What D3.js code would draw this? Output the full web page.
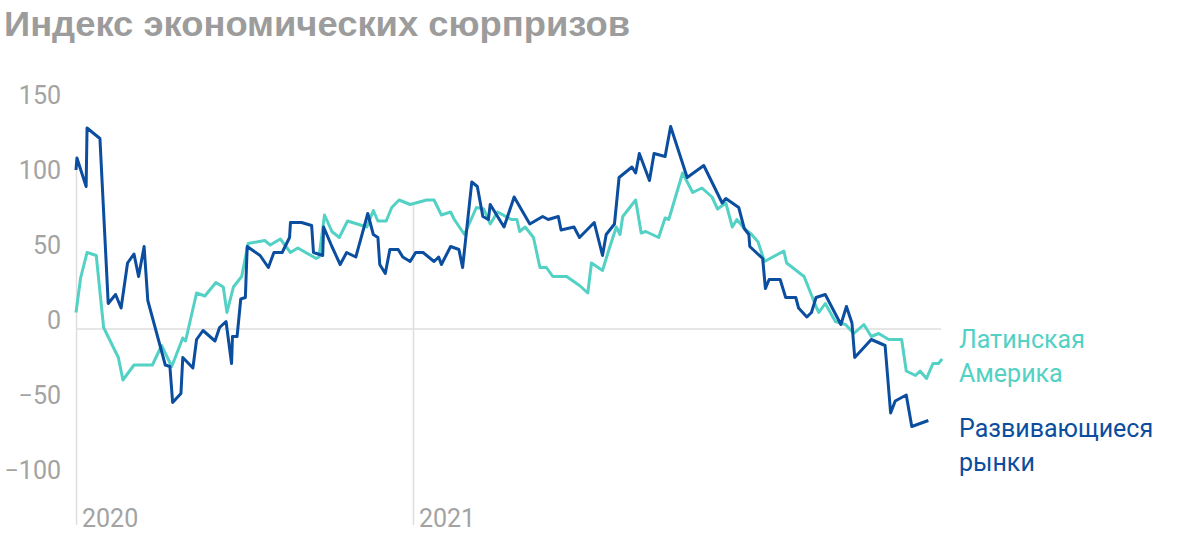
<!DOCTYPE html>
<html lang="ru">
<head>
<meta charset="utf-8">
<title>Индекс экономических сюрпризов</title>
<script src="https://cdn.jsdelivr.net/npm/d3@7"></script>
<style>
  body { margin: 0; background: #fff; }
  svg { display: block; }
</style>
</head>
<body>
<script>
// Emerging markets (blue)
var emDates = ["2020-01-01","2020-01-02","2020-01-12","2020-01-13","2020-01-27","2020-02-05","2020-02-13","2020-02-19","2020-02-26","2020-03-04",
  "2020-03-09","2020-03-15","2020-03-19","2020-04-07","2020-04-12","2020-04-15","2020-04-24","2020-04-26","2020-05-07","2020-05-11",
  "2020-05-18","2020-05-31","2020-06-05","2020-06-12","2020-06-18","2020-06-19","2020-06-24","2020-06-28","2020-07-03","2020-07-05",
  "2020-07-19","2020-07-28","2020-08-03","2020-08-12","2020-08-20","2020-08-21","2020-09-02","2020-09-13","2020-09-15","2020-09-25",
  "2020-09-26","2020-10-05","2020-10-14","2020-10-21","2020-10-31","2020-11-13","2020-11-19","2020-11-24","2020-11-26","2020-12-02",
  "2020-12-07","2020-12-16","2020-12-21","2020-12-29","2021-01-04","2021-01-12","2021-01-24","2021-01-29","2021-02-01","2021-02-11",
  "2021-02-20","2021-02-24","2021-03-06","2021-03-12","2021-03-18","2021-03-24","2021-03-26","2021-04-10","2021-04-21","2021-05-08",
  "2021-05-22","2021-05-28","2021-06-08","2021-06-11","2021-06-25","2021-07-01","2021-07-17","2021-07-26","2021-07-30","2021-08-08",
  "2021-08-13","2021-08-27","2021-08-31","2021-09-04","2021-09-15","2021-09-20","2021-10-02","2021-10-08","2021-10-26","2021-11-13",
  "2021-12-03","2021-12-07","2021-12-21","2021-12-27","2022-01-01","2022-01-02","2022-01-16","2022-01-19","2022-01-23","2022-02-04",
  "2022-02-10","2022-02-21","2022-02-24","2022-03-05","2022-03-10","2022-03-15","2022-03-25","2022-04-11","2022-04-17","2022-04-23",
  "2022-04-26","2022-05-14","2022-05-29","2022-06-04","2022-06-09","2022-06-21","2022-06-27","2022-07-15"];
var emValues = [106,114,95,134,127,17,23,14,44,50,
  35,55,19,-24,-25,-49,-43,-19,-26,-7,
  -1,-8,1,5,-23,-5,-5,20,21,55,
  49,41,51,51,61,71,71,69,51,49,
  68,55,43,51,48,77,63,61,43,37,
  53,53,48,45,51,51,45,48,43,55,
  53,41,98,95,75,73,83,68,88,70,
  75,73,75,66,68,61,71,49,63,70,
  101,108,104,117,99,117,115,135,101,109,
  84,87,81,67,63,55,47,27,33,33,
  21,21,14,8,11,21,23,3,15,4,
  -19,-7,-11,-56,-48,-44,-65,-61];

// Latin America (teal)
var latamDates = ["2020-01-01","2020-01-06","2020-01-13","2020-01-23","2020-01-31","2020-02-16","2020-02-21","2020-03-04","2020-03-24","2020-04-03",
  "2020-04-14","2020-04-26","2020-04-29","2020-05-11","2020-05-20","2020-06-01","2020-06-09","2020-06-13","2020-06-20","2020-06-29",
  "2020-07-06","2020-07-24","2020-07-30","2020-08-10","2020-08-21","2020-08-29","2020-09-18","2020-09-21","2020-09-27","2020-10-05",
  "2020-10-13","2020-10-22","2020-11-12","2020-11-19","2020-11-24","2020-12-03","2020-12-09","2020-12-17","2020-12-29","2021-01-16",
  "2021-01-24","2021-02-01","2021-02-11","2021-02-15","2021-02-26","2021-03-11","2021-03-19","2021-03-26","2021-04-03","2021-04-18",
  "2021-04-24","2021-04-27","2021-05-03","2021-05-12","2021-05-19","2021-05-26","2021-06-02","2021-06-17","2021-07-01","2021-07-10",
  "2021-07-14","2021-07-26","2021-08-02","2021-08-10","2021-08-14","2021-08-17","2021-08-31","2021-09-06","2021-09-11","2021-09-25",
  "2021-10-02","2021-10-06","2021-10-21","2021-11-01","2021-11-11","2021-11-22","2021-11-28","2021-12-07","2021-12-14","2021-12-19",
  "2021-12-27","2022-01-04","2022-01-11","2022-01-18","2022-02-08","2022-02-11","2022-03-02","2022-03-15","2022-03-18","2022-03-25",
  "2022-04-05","2022-04-16","2022-04-25","2022-05-06","2022-05-14","2022-05-22","2022-06-02","2022-06-16","2022-06-21","2022-07-01",
  "2022-07-06","2022-07-13","2022-07-20","2022-07-26","2022-07-30"];
var latamValues = [11,34,51,49,1,-19,-34,-24,-24,-11,
  -25,-6,-8,24,22,31,28,11,28,35,
  57,59,56,60,51,54,47,48,76,65,
  61,72,68,79,72,72,81,86,83,86,
  86,76,78,73,63,81,80,70,78,73,
  73,65,68,61,41,41,35,35,29,24,
  44,39,53,68,63,75,86,64,65,61,
  74,73,104,91,94,88,80,84,68,73,
  67,63,58,45,52,44,35,15,11,17,
  5,3,-3,3,-5,-3,-7,-7,-28,-31,
  -28,-33,-23,-23,-20];

var yTicks = [150, 100, 50, 0, -50, -100];
var xTickDates = ["2020-01-01", "2021-01-01"];
var xTickLabels = ["2020", "2021"];
var seriesNames = [["Латинская", "Америка"], ["Развивающиеся", "рынки"]];

var w = 1200, h = 535;
var teal = "#52d1c4", blue = "#0b4d9e", grey = "#a3a3a3", gridGrey = "#dedede";
var parse = d3.timeParse("%Y-%m-%d");

function toPoints(dates, values) {
  return dates.map(function(d, i) { return { date: parse(d), value: values[i] }; });
}
var latam = toPoints(latamDates, latamValues);
var em = toPoints(emDates, emValues);

var xScale = d3.scaleTime()
  .domain([parse("2020-01-01"), parse("2022-08-01")])
  .range([76, 944]);
var yScale = d3.scaleLinear()
  .domain([-100, 150])
  .range([479, 104]);
var bottom = 525;

var svg = d3.select("body").append("svg")
  .attr("width", w)
  .attr("height", h);

// Title
svg.append("text")
  .attr("x", 4)
  .attr("y", 36)
  .attr("font-family", "'Liberation Sans', Arial, sans-serif")
  .attr("font-weight", "bold")
  .attr("font-size", "35.5px")
  .attr("textLength", 626)
  .attr("lengthAdjust", "spacingAndGlyphs")
  .attr("fill", "#9c9c9c")
  .text("Индекс экономических сюрпризов");

// value at a date (linear interpolation) - used to stop the year lines at the data
function valueAt(points, date) {
  var i = d3.bisector(function(d) { return d.date; }).left(points, date);
  if (i <= 0) return points[0].value;
  if (i >= points.length) return points[points.length - 1].value;
  var a = points[i - 1], b = points[i];
  var t = (date - a.date) / (b.date - a.date);
  return a.value + t * (b.value - a.value);
}

// Year lines
svg.selectAll(".year-line")
  .data(xTickDates)
  .enter()
  .append("line")
  .attr("class", "year-line")
  .attr("x1", function(d) { return Math.round(xScale(parse(d))) + 0.5; })
  .attr("x2", function(d) { return Math.round(xScale(parse(d))) + 0.5; })
  .attr("y1", bottom)
  .attr("y2", function(d) {
    var dt = parse(d);
    return yScale(Math.max(valueAt(latam, dt), valueAt(em, dt)));
  })
  .attr("stroke", gridGrey)
  .attr("stroke-width", 1.5);

// Zero line
svg.append("line")
  .attr("x1", xScale.range()[0])
  .attr("x2", 941)
  .attr("y1", yScale(0))
  .attr("y2", yScale(0))
  .attr("stroke", gridGrey)
  .attr("stroke-width", 1.5);

// Y labels
svg.selectAll(".y-label")
  .data(yTicks)
  .enter()
  .append("text")
  .attr("class", "y-label")
  .attr("x", 61)
  .attr("y", function(d) { return yScale(d); })
  .attr("text-anchor", "end")
  .attr("font-family", "Roboto, sans-serif")
  .attr("font-size", "25px")
  .attr("fill", grey)
  .text(function(d) { return d < 0 ? "\u2212" + Math.abs(d) : d; });

// X labels
svg.selectAll(".x-label")
  .data(xTickDates)
  .enter()
  .append("text")
  .attr("class", "x-label")
  .attr("x", function(d) { return xScale(parse(d)) + 6; })
  .attr("y", bottom + 2)
  .attr("font-family", "Roboto, sans-serif")
  .attr("font-size", "25px")
  .attr("fill", grey)
  .text(function(d, i) { return xTickLabels[i]; });

// Lines
var line = d3.line()
  .x(function(d) { return xScale(d.date); })
  .y(function(d) { return yScale(d.value); });

svg.append("path")
  .datum(latam)
  .attr("d", line)
  .attr("fill", "none")
  .attr("stroke", teal)
  .attr("stroke-width", 3)
  .attr("stroke-linejoin", "round");

svg.append("path")
  .datum(em)
  .attr("d", line)
  .attr("fill", "none")
  .attr("stroke", blue)
  .attr("stroke-width", 3)
  .attr("stroke-linejoin", "round");

// Legend
var legendTop = [348, 437];
var legendColors = [teal, blue];
seriesNames.forEach(function(names, i) {
  svg.append("text")
    .attr("x", 959)
    .attr("y", legendTop[i])
    .attr("font-family", "Roboto, sans-serif")
    .attr("font-size", "25px")
    .attr("fill", legendColors[i])
    .selectAll("tspan")
    .data(names)
    .enter()
    .append("tspan")
    .attr("x", 959)
    .attr("dy", function(d, j) { return j === 0 ? 0 : 34; })
    .text(function(d) { return d; });
});
</script>
</body>
</html>
